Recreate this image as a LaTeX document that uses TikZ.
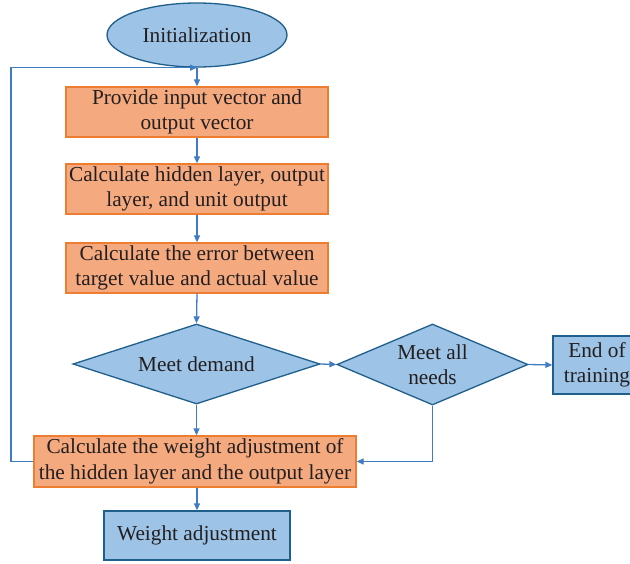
\documentclass[tikz,border=0pt]{standalone}
\usepackage{fontspec}
\setmainfont{Liberation Serif}
\usetikzlibrary{shapes.geometric,arrows.meta}
\definecolor{bfill}{HTML}{9DC3E6}
\definecolor{bdraw}{HTML}{1F5F8B}
\definecolor{ofill}{HTML}{F5A97F}
\definecolor{odraw}{HTML}{ED7D31}
\definecolor{lineblue}{HTML}{3F7CC4}
\definecolor{txt}{HTML}{231F20}
\begin{document}
\begin{tikzpicture}[x=1pt,y=-1pt,
  font=\fontsize{21.3}{25.5}\selectfont, text=txt,
  obox/.style={rectangle, draw=odraw, fill=ofill, line width=1.3pt, minimum width=262pt, minimum height=50pt, align=center, inner sep=0pt},
  bbox/.style={rectangle, draw=bdraw, fill=bfill, line width=1.3pt, align=center, inner sep=0pt},
  dia/.style={diamond, draw=bdraw, fill=bfill, line width=1.3pt, align=center, inner sep=0pt, shape aspect=2.4},
  conn/.style={draw=lineblue, line width=1.3pt, -{Triangle[length=7pt,width=6pt]}}]
\useasboundingbox (0,0) rectangle (630,563);
\clip (0,0) rectangle (630,563);
\node[ellipse, draw=bdraw, fill=bfill, line width=1.3pt, minimum width=180pt, minimum height=64pt, inner sep=0pt] (init) at (197,35) {Initialization};
\node[obox] (b1) at (197,112) {Provide input vector and\\output vector};
\node[obox] (b2) at (197,189) {Calculate hidden layer, output\\layer, and unit output};
\node[obox] (b3) at (197,268) {Calculate the error between\\target value and actual value};
\node[dia, minimum width=247pt, minimum height=80pt] (d1) at (196.5,364) {Meet demand};
\node[dia, minimum width=191pt, minimum height=81pt] (d2) at (432.5,364.5) {Meet all\\needs};
\node[bbox, minimum width=88pt, minimum height=58pt] (end) at (597,365) {End of\\training};
\node[obox, minimum width=322pt, minimum height=51pt] (b4) at (195,461.5) {Calculate the weight adjustment of\\the hidden layer and the output layer};
\node[bbox, minimum width=186pt, minimum height=49pt] (b5) at (197,535.5) {Weight adjustment};
\draw[conn] (init) -- (b1);
\draw[conn] (b1) -- (b2);
\draw[conn] (b2) -- (b3);
\draw[conn] (b3.south) -- (d1.north);
\draw[conn] (d1.south) -- (b4.north -| d1.south);
\draw[conn] (b4.south -| b5.north) -- (b5.north);
\draw[conn] (d1.east) -- (d2.west);
\draw[conn] (d2.east) -- (end.west);
\draw[conn] (d2.south) |- (b4.east);
\coordinate (loopx) at (11,0);
\draw[conn] (b4.west) -- (b4.west -| loopx) -- (loopx |- init.south) -- (init.south);
\end{tikzpicture}
\end{document}
